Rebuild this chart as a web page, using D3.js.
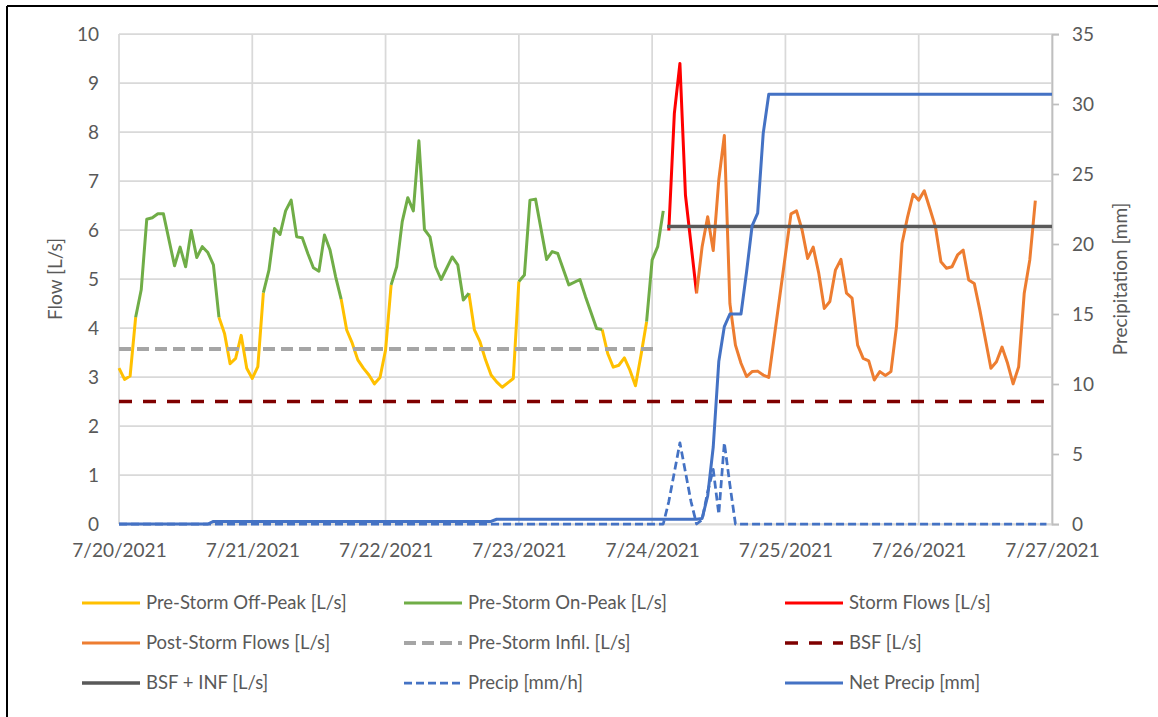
<!DOCTYPE html>
<html>
<head>
<meta charset="utf-8">
<script src="https://cdn.jsdelivr.net/npm/d3@7"></script>
<style>
  html, body { margin: 0; padding: 0; background: #fff; }
  svg { display: block; }
  text { font-family: Lato, "Open Sans", sans-serif; fill: #595959; }
</style>
</head>
<body>
<svg id="chart" width="1158" height="717"></svg>
<script>
// ---- Data (time in hours after 7/20/2021 00:00) ----
const dayLabels = ["7/20/2021", "7/21/2021", "7/22/2021", "7/23/2021", "7/24/2021", "7/25/2021", "7/26/2021", "7/27/2021"];
const flowTicks = [0, 1, 2, 3, 4, 5, 6, 7, 8, 9, 10];
const precipTicks = [0, 5, 10, 15, 20, 25, 30, 35];

// Pre-storm flow record [L/s]
const preStormHours = [0, 1, 2, 3, 4, 5, 6, 7, 8, 10, 11, 12, 13, 14, 15, 16, 17, 18, 19, 20, 21, 22, 23, 24, 25,
  26, 27, 28, 29, 30, 31, 32, 33, 34, 35, 36, 37, 38, 39, 40, 41, 42, 43, 44, 45, 46, 47, 48,
  49, 50, 51, 52, 53, 54, 55, 56, 57, 58, 59, 60, 61, 62, 63, 64, 65, 66, 67, 68, 69, 70, 71,
  72, 73, 74, 75, 77, 78, 79, 81, 83, 84, 86, 87, 88, 89, 90, 91, 92, 93, 94, 95, 96, 97, 98];
const preStormFlow = [3.18, 2.95, 3.02, 4.22, 4.78, 6.22, 6.25, 6.33, 6.33, 5.27, 5.65, 5.25, 5.99, 5.44, 5.66, 5.54, 5.29, 4.22, 3.89, 3.27, 3.38, 3.85, 3.18, 2.97, 3.21,
  4.72, 5.18, 6.03, 5.91, 6.39, 6.61, 5.86, 5.84, 5.52, 5.23, 5.16, 5.90, 5.59, 5.05, 4.59, 3.96, 3.69, 3.35, 3.18, 3.04, 2.86, 2.99, 3.55,
  4.88, 5.25, 6.17, 6.66, 6.39, 7.82, 6.01, 5.86, 5.25, 4.99, 5.22, 5.45, 5.29, 4.57, 4.71, 3.96, 3.72, 3.35, 3.04, 2.90, 2.79, 2.88, 2.97,
  4.95, 5.08, 6.61, 6.63, 5.40, 5.56, 5.52, 4.88, 4.99, 4.64, 3.99, 3.97, 3.48, 3.20, 3.24, 3.39, 3.14, 2.82, 3.45, 4.13, 5.39, 5.66, 6.39];
// On-peak periods [start, end] in hours; everything else before the storm is off-peak
const onPeakStart = [3, 26, 49, 72, 95];
const onPeakEnd = [18, 40, 63, 87, 99];

// Storm and post-storm flows [L/s]
const stormHours = [99, 100, 101, 102, 104];
const stormFlow = [5.99, 8.38, 9.40, 6.71, 4.71];
const postHours = [104, 105, 106, 107, 108, 109, 110, 111, 112, 113, 114, 115, 116, 117, 121, 122, 123, 124, 125, 126, 127, 128, 129, 130,
  131, 132, 133, 134, 135, 136, 137, 138, 139, 140, 141, 142, 143, 144, 145, 146, 147, 148, 149, 150, 151, 152, 153, 154, 155,
  157, 158, 159, 160, 161, 162, 163, 164, 165];
const postFlow = [4.71, 5.66, 6.27, 5.58, 7.02, 7.93, 4.50, 3.65, 3.28, 3.01, 3.11, 3.12, 3.04, 2.99, 6.33, 6.39, 6.00, 5.42, 5.65, 5.12, 4.40, 4.54, 5.18, 5.40,
  4.71, 4.61, 3.65, 3.38, 3.33, 2.94, 3.11, 3.03, 3.11, 4.03, 5.73, 6.27, 6.73, 6.61, 6.80, 6.44, 6.07, 5.35, 5.22, 5.25, 5.49, 5.59, 4.98, 4.91, 4.37,
  3.18, 3.31, 3.61, 3.28, 2.86, 3.21, 4.71, 5.39, 6.60];

// Reference levels [L/s]
const infilFlow = 3.57, infilHours = [0, 97];
const bsfFlow = 2.5, bsfHours = [0, 168];
const bsfInfFlow = 6.07, bsfInfHours = [98.7, 168];

// Rainfall
const precipHours = [0, 98, 99, 100, 101, 102, 103, 104, 105, 106, 107, 108, 109, 110, 111, 167];
const precipRate = [0, 0, 1.6, 3.7, 5.8, 3.7, 1.6, 0, 0.3, 2.3, 3.9, 0.7, 5.8, 2.8, 0, 0];          // mm/h
const netHours = [0, 16, 17, 67, 68, 104, 105, 106, 107, 108, 109, 110, 112, 113, 114, 115, 116, 117, 168];
const netPrecip = [0, 0, 0.18, 0.18, 0.34, 0.34, 0.4, 2.0, 5.5, 11.6, 14.1, 15.0, 15.0, 18.0, 21.3, 22.2, 27.9, 30.7, 30.7]; // mm

// ---- Layout ----
const svg = d3.select("#chart");
const plot = { left: 119, right: 1052, top: 34, bottom: 524 };

const x = d3.scaleLinear().domain([0, 168]).range([plot.left, plot.right]);
const yFlow = d3.scaleLinear().domain([0, 10]).range([plot.bottom, plot.top]);
const yPrecip = d3.scaleLinear().domain([0, 35]).range([plot.bottom, plot.top]);
const dayHours = dayLabels.map((d, i) => i * 24);

// Frame
svg.append("line").attr("x1", 7).attr("y1", 6).attr("x2", 1158).attr("y2", 6)
  .attr("stroke", "#000").attr("stroke-width", 2);
svg.append("line").attr("x1", 7).attr("y1", 6).attr("x2", 7).attr("y2", 717)
  .attr("stroke", "#000").attr("stroke-width", 2);

// Gridlines
const grid = svg.append("g").attr("stroke", "#d9d9d9").attr("stroke-width", 1.75);
grid.selectAll(".h").data(flowTicks).join("line")
  .attr("x1", plot.left).attr("x2", plot.right)
  .attr("y1", d => yFlow(d)).attr("y2", d => yFlow(d));
grid.selectAll(".v").data(dayHours).join("line")
  .attr("x1", d => x(d)).attr("x2", d => x(d))
  .attr("y1", plot.top).attr("y2", plot.bottom);

// Axes
const fs = 19;
const leftAxis = svg.append("g").attr("transform", `translate(${plot.left},0)`)
  .call(d3.axisLeft(yFlow).tickValues(flowTicks).tickSize(0).tickPadding(20));
const bottomAxis = svg.append("g").attr("transform", `translate(0,${plot.bottom})`)
  .call(d3.axisBottom(x).tickValues(dayHours).tickFormat((d, i) => dayLabels[i]).tickSize(0).tickPadding(20));
const rightAxis = svg.append("g").attr("transform", `translate(${plot.right},0)`)
  .call(d3.axisRight(yPrecip).tickValues(precipTicks).tickSize(7).tickPadding(13));
[leftAxis, bottomAxis, rightAxis].forEach(g => {
  g.attr("font-family", null).attr("font-size", null);
  g.selectAll("text").style("font-size", fs + "px").attr("fill", "#595959");
});
leftAxis.select(".domain").remove();
bottomAxis.select(".domain").attr("stroke", "#d9d9d9").attr("stroke-width", 1.75);
rightAxis.select(".domain").attr("stroke", "#bfbfbf").attr("stroke-width", 1.75);
rightAxis.selectAll(".tick line").attr("stroke", "#bfbfbf").attr("stroke-width", 1.75);

// Axis titles
svg.append("text").attr("transform", `translate(62,${(plot.top + plot.bottom) / 2}) rotate(-90)`)
  .attr("text-anchor", "middle").style("font-size", fs + "px").text("Flow [L/s]");
svg.append("text").attr("transform", `translate(1127,${(plot.top + plot.bottom) / 2}) rotate(-90)`)
  .attr("text-anchor", "middle").style("font-size", fs + "px").text("Precipitation [mm]");

// ---- Series ----
const pts = (hs, vs) => hs.map((h, i) => [h, vs[i]]);
const flowLine = d3.line().x(d => x(d[0])).y(d => yFlow(d[1]));
const precipLine = d3.line().x(d => x(d[0])).y(d => yPrecip(d[1]));

const inOnPeak = h => onPeakStart.some((s, i) => h >= s && h <= onPeakEnd[i]);
const insideOnPeak = h => onPeakStart.some((s, i) => h > s && h < onPeakEnd[i]);
const pre = pts(preStormHours, preStormFlow);

const series = [
  { key: "off", label: "Pre-Storm Off-Peak [L/s]", color: "#ffc000", width: 3, dash: null,
    path: flowLine.defined(d => !insideOnPeak(d[0]))(pre) },
  { key: "on", label: "Pre-Storm On-Peak [L/s]", color: "#70ad47", width: 3, dash: null,
    path: d3.line().x(d => x(d[0])).y(d => yFlow(d[1])).defined(d => inOnPeak(d[0]))(pre) },
  { key: "storm", label: "Storm Flows [L/s]", color: "#ff0000", width: 3, dash: null,
    path: d3.line().x(d => x(d[0])).y(d => yFlow(d[1]))(pts(stormHours, stormFlow)) },
  { key: "post", label: "Post-Storm Flows [L/s]", color: "#ed7d31", width: 3, dash: null,
    path: d3.line().x(d => x(d[0])).y(d => yFlow(d[1]))(pts(postHours, postFlow)) },
  { key: "infil", label: "Pre-Storm Infil. [L/s]", color: "#a5a5a5", width: 4, dash: "12,6",
    path: d3.line().x(d => x(d[0])).y(d => yFlow(d[1]))(infilHours.map(h => [h, infilFlow])) },
  { key: "bsf", label: "BSF [L/s]", color: "#7f0000", width: 3.5, dash: "13,11",
    path: d3.line().x(d => x(d[0])).y(d => yFlow(d[1]))(bsfHours.map(h => [h, bsfFlow])) },
  { key: "bsfinf", label: "BSF + INF [L/s]", color: "#595959", width: 3.5, dash: null,
    path: d3.line().x(d => x(d[0])).y(d => yFlow(d[1]))(bsfInfHours.map(h => [h, bsfInfFlow])) },
  { key: "precip", label: "Precip [mm/h]", color: "#4472c4", width: 2.75, dash: "8,4",
    path: precipLine(pts(precipHours, precipRate)) },
  { key: "net", label: "Net Precip [mm]", color: "#4472c4", width: 3, dash: null,
    path: precipLine(pts(netHours, netPrecip)) }
];

const lines = svg.append("g").attr("fill", "none").attr("stroke-linejoin", "round");
lines.selectAll("path").data(series).join("path")
  .attr("d", d => d.path)
  .attr("stroke", d => d.color)
  .attr("stroke-width", d => d.width)
  .attr("stroke-dasharray", d => d.dash);

// ---- Legend ----
const legendCols = [82, 404, 785];
const legendRows = [603, 643, 683];
const legend = svg.append("g");
series.forEach((s, i) => {
  const lx = legendCols[i % 3], ly = legendRows[Math.floor(i / 3)];
  const g = legend.append("g").attr("transform", `translate(${lx},${ly})`);
  g.append("line").attr("x1", 0).attr("x2", 58).attr("y1", 0).attr("y2", 0)
    .attr("stroke", s.color).attr("stroke-width", s.width).attr("stroke-dasharray", s.dash);
  g.append("text").attr("x", 64).attr("y", 0).attr("dy", "0.35em")
    .style("font-size", "18.5px").text(s.label);
});
</script>
</body>
</html>
